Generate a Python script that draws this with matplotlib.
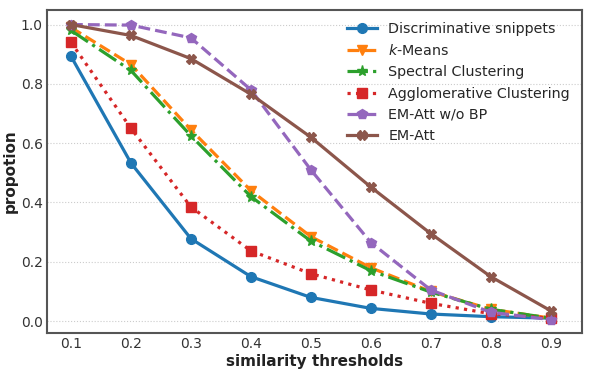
import matplotlib
matplotlib.use("Agg")
import matplotlib.pyplot as plt

# 数据
thresholds = [0.1, 0.2, 0.3, 0.4, 0.5, 0.6, 0.7, 0.8, 0.9]
disc_snippets = [0.893, 0.533, 0.278, 0.150, 0.080, 0.043, 0.024, 0.015, 0.010]
kmeans = [0.99, 0.865, 0.645, 0.440, 0.285, 0.180, 0.100, 0.040, 0.010]
spectral = [0.98, 0.845, 0.625, 0.420, 0.270, 0.170, 0.098, 0.040, 0.010]
agglomerative = [0.94, 0.650, 0.385, 0.237, 0.160, 0.105, 0.060, 0.025, 0.010]
em_att_wo_bp = [1.0, 0.998, 0.955, 0.780, 0.510, 0.265, 0.105, 0.030, 0.005]
em_att = [1.0, 0.963, 0.885, 0.765, 0.620, 0.452, 0.295, 0.150, 0.035]

series = [
    ("Discriminative snippets", disc_snippets, "#1f77b4", "-", "o", 7),
    ("$k$-Means", kmeans, "#ff7f0e", "--", "v", 7),
    ("Spectral Clustering", spectral, "#2ca02c", "-.", "*", 8),
    ("Agglomerative Clustering", agglomerative, "#d62728", ":", "s", 6.5),
    ("EM-Att w/o BP", em_att_wo_bp, "#9467bd", "--", "p", 7),
    ("EM-Att", em_att, "#8c564b", "-", "X", 7),
]

fig, ax = plt.subplots(figsize=(5.95, 3.7), dpi=100)
fig.subplots_adjust(left=0.079, right=0.978, top=0.973, bottom=0.1)

for label, vals, color, ls, mk, ms in series:
    ax.plot(thresholds, vals, color=color, linestyle=ls, marker=mk,
            linewidth=2.3, markersize=ms, label=label)

ax.set_xlim(0.06, 0.952)
ax.set_ylim(-0.04, 1.049)
ax.set_xticks(thresholds)
ax.set_yticks([0.0, 0.2, 0.4, 0.6, 0.8, 1.0])
ax.yaxis.grid(True, linestyle=':', color='#cccccc', linewidth=0.8)
ax.set_axisbelow(True)
ax.tick_params(axis='both', labelsize=10, colors='#333333', length=0, pad=3)
for sp in ax.spines.values():
    sp.set_color('#555555')
    sp.set_linewidth(1.5)

ax.set_xlabel("similarity thresholds", fontsize=11, fontweight='bold', color='#222222', labelpad=2)
ax.set_ylabel("propotion", fontsize=11, fontweight='bold', color='#222222', labelpad=2)

# 图例
leg = ax.legend(loc='upper right', fontsize=10.3, frameon=False, handlelength=2.1,
                labelspacing=0.5, borderaxespad=0.45)
for t in leg.get_texts():
    t.set_color('#262626')

fig.savefig("out.png", dpi=100)
